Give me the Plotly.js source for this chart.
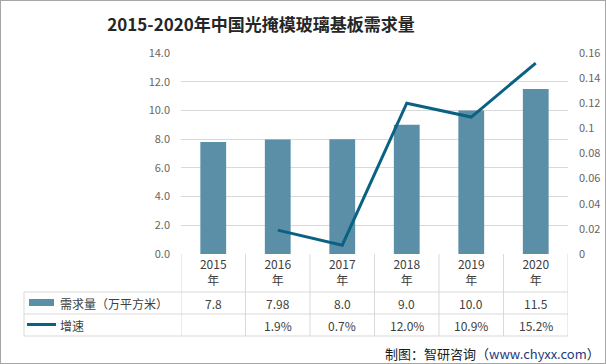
<!DOCTYPE html>
<html>
<head>
<meta charset="utf-8">
<script src="https://cdn.plot.ly/plotly-3.0.1.min.js"></script>
<style>
  html, body { margin: 0; padding: 0; background: #fff; }
  #chart { position: absolute; left: 0; top: 0; width: 606px; height: 364px; }
  #frame { position: absolute; left: 0; top: 0; width: 604px; height: 362px; border: 1px solid #a6a6a6; pointer-events: none; }
</style>
</head>
<body>
<div id="chart"></div>
<div id="frame"></div>
<script>
// ---- data ----
var years = ['2015', '2016', '2017', '2018', '2019', '2020'];
var yearSuffix = '年';
var demand = [7.8, 7.98, 8.0, 9.0, 10.0, 11.5];
var growth = [null, 0.019, 0.007, 0.120, 0.109, 0.152];
var seriesNames = ['需求量（万平方米）', '增速'];
var leftTicks = [0, 2, 4, 6, 8, 10, 12, 14];
var rightTicks = [0, 0.02, 0.04, 0.06, 0.08, 0.1, 0.12, 0.14, 0.16];
var titleText = '2015-2020年中国光掩模玻璃基板需求量';
var sourceText = '制图：智研咨询（<span style="color:#1f3a7a">www.chyxx.com</span>）';

// ---- styles ----
var FONT = '"Noto Sans CJK SC", "Noto Sans", sans-serif';
var barColor = '#5b8fa7';
var lineColor = '#0b6182';
var gridColor = '#d9d9d9';
var textColor = '#404040';

var W = 606, H = 364;
var L = 181, R = 568, T = 53, B = 254;
var pw = R - L, ph = B - T;
function px(x) { return (x - L) / pw; }
function py(y) { return (B - y) / ph; }

var idx = years.map(function (_, i) { return i; });

function fmtDemand(v) {
  return Math.abs(v * 10 - Math.round(v * 10)) < 1e-9 ? v.toFixed(1) : String(v);
}
function fmtGrowth(v) {
  return v === null ? '' : (v * 100).toFixed(1) + '%';
}

var traces = [
  {
    type: 'bar', x: idx, y: demand, name: seriesNames[0],
    marker: { color: barColor }, width: 0.4, showlegend: false,
    hoverinfo: 'skip'
  },
  {
    type: 'scatter', mode: 'lines', x: idx, y: growth, name: seriesNames[1],
    yaxis: 'y2', line: { color: lineColor, width: 3 }, connectgaps: false,
    showlegend: false, hoverinfo: 'skip'
  }
];

var shapes = [];
var annotations = [];

// table horizontal lines
var rowLines = [292, 314, 336];
rowLines.forEach(function (y) {
  shapes.push({ type: 'line', xref: 'paper', yref: 'paper', x0: px(24), x1: 1, y0: py(y), y1: py(y),
    line: { color: gridColor, width: 1 } });
});
// vertical lines at category boundaries
for (var i = 0; i <= years.length; i++) {
  shapes.push({ type: 'line', xref: 'x', yref: 'paper', x0: i - 0.5, x1: i - 0.5, y0: 0, y1: py(336),
    line: { color: gridColor, width: 1 } });
}
// legend column left edge
shapes.push({ type: 'line', xref: 'paper', yref: 'paper', x0: px(24), x1: px(24), y0: py(292), y1: py(336),
  line: { color: gridColor, width: 1 } });

// legend keys
shapes.push({ type: 'rect', xref: 'paper', yref: 'paper', x0: px(29), x1: px(54), y0: py(299), y1: py(306),
  line: { width: 0 }, fillcolor: barColor });
shapes.push({ type: 'line', xref: 'paper', yref: 'paper', x0: px(27), x1: px(56), y0: py(324.5), y1: py(324.5),
  line: { color: lineColor, width: 3 } });

annotations.push({ xref: 'paper', yref: 'paper', x: px(58), y: py(303), xanchor: 'left', yanchor: 'middle',
  text: seriesNames[0], showarrow: false, font: { family: FONT, size: 12, color: textColor } });
annotations.push({ xref: 'paper', yref: 'paper', x: px(58), y: py(325), xanchor: 'left', yanchor: 'middle',
  text: seriesNames[1], showarrow: false, font: { family: FONT, size: 12, color: textColor } });

// table values
idx.forEach(function (i) {
  annotations.push({ xref: 'x', yref: 'paper', x: i, y: py(303), xanchor: 'center', yanchor: 'middle',
    text: fmtDemand(demand[i]), showarrow: false, font: { family: FONT, size: 12, color: textColor } });
  annotations.push({ xref: 'x', yref: 'paper', x: i, y: py(325), xanchor: 'center', yanchor: 'middle',
    text: fmtGrowth(growth[i]), showarrow: false, font: { family: FONT, size: 12, color: textColor } });
});

// source
annotations.push({ xref: 'paper', yref: 'paper', x: px(602), y: py(353), xanchor: 'right', yanchor: 'middle',
  text: sourceText, showarrow: false, font: { family: FONT, size: 13, color: '#1a1a1a' } });

var layout = {
  width: W, height: H,
  margin: { l: L, r: W - R, t: T, b: H - B, pad: 0 },
  paper_bgcolor: '#fff', plot_bgcolor: '#fff',
  title: {
    text: '<b>' + titleText + '</b>',
    xref: 'container', yref: 'container', x: 261 / W, y: 1 - 25 / H,
    xanchor: 'center', yanchor: 'middle',
    font: { family: FONT, size: 17, color: '#262626' }
  },
  xaxis: {
    range: [-0.5, years.length - 0.5],
    tickmode: 'array', tickvals: idx,
    ticktext: years.map(function (y) { return y + '<br>' + yearSuffix; }),
    tickfont: { family: FONT, size: 12, color: textColor },
    showgrid: false, zeroline: false, showline: false, ticks: '',
    ticklabelstandoff: 2, fixedrange: true
  },
  yaxis: {
    range: [0, 14], tickmode: 'array', tickvals: leftTicks, tickformat: '.1f',
    tickfont: { family: FONT, size: 11, color: '#666' },
    showgrid: true, gridcolor: gridColor, gridwidth: 1, zeroline: false,
    showline: false, ticks: '', ticklabelstandoff: 10, fixedrange: true
  },
  yaxis2: {
    overlaying: 'y', side: 'right', range: [0, 0.16], tickmode: 'array', tickvals: rightTicks,
    ticktext: rightTicks.map(function (v) { return String(v); }),
    tickfont: { family: FONT, size: 11, color: '#666' },
    showgrid: false, zeroline: false, showline: false, ticks: '', ticklabelstandoff: 10, fixedrange: true
  },
  bargap: 0.6,
  shapes: shapes,
  annotations: annotations,
  showlegend: false
};

Plotly.newPlot('chart', traces, layout, { staticPlot: true, displayModeBar: false });
</script>
</body>
</html>
